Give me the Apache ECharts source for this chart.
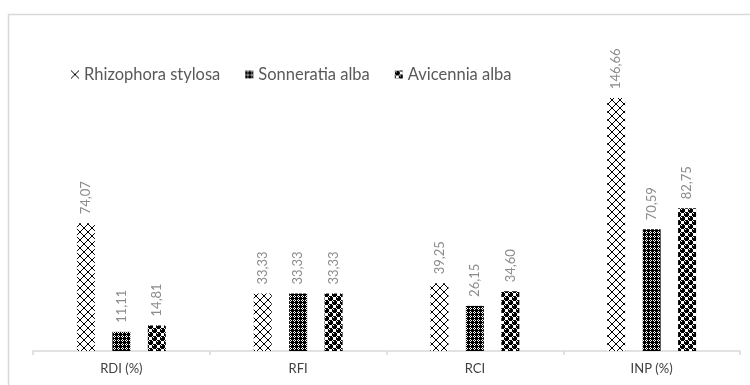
<!DOCTYPE html>
<html><head><meta charset="utf-8">
<script src="https://cdn.jsdelivr.net/npm/echarts@6/dist/echarts.min.js"></script>
<style>html,body{margin:0;padding:0;background:#fff}#c{width:750px;height:385px}</style>
</head><body><div id="c"></div>
<script>
var categories = ['RDI (%)', 'RFI', 'RCI', 'INP (%)'];
var seriesNames = ['Rhizophora stylosa', 'Sonneratia alba', 'Avicennia alba'];
var rhizophora = [74.07, 33.33, 39.25, 146.66];
var sonneratia = [11.11, 33.33, 26.15, 70.59];
var avicennia = [14.81, 33.33, 34.60, 82.75];

function tile(w, h, draw) {
  var c = document.createElement('canvas');
  c.width = w; c.height = h;
  var g = c.getContext('2d');
  g.fillStyle = '#fff'; g.fillRect(0, 0, w, h);
  g.fillStyle = '#000';
  draw(g);
  return { image: c, repeat: 'repeat' };
}
// diagonal lattice
var patA = tile(8, 8, function (g) {
  for (var i = 0; i < 8; i++) {
    g.fillRect(i, i, 1, 1);
    g.fillRect(7 - i, i, 1, 1);
  }
});
// dense small checker
var patB = tile(4, 4, function (g) {
  g.fillRect(0, 0, 1, 1); g.fillRect(2, 0, 1, 1);
  g.fillRect(1, 1, 1, 1); g.fillRect(3, 1, 1, 1);
  g.fillRect(0, 2, 4, 1);
  g.fillRect(1, 3, 1, 1); g.fillRect(3, 3, 1, 1);
  g.fillRect(0, 0, 1, 4);
});
// spheres on a checker
var patC = tile(8, 8, function (g) {
  function blob(x, y) {
    g.fillRect(x + 1, y, 3, 1);
    g.fillRect(x, y + 1, 5, 3);
    g.fillRect(x + 1, y + 4, 3, 1);
    g.fillStyle = '#fff'; g.fillRect(x + 1, y + 1, 1, 1); g.fillStyle = '#000';
  }
  blob(0, 0); blob(4, 4);
  blob(-4, 4); blob(4, -4); blob(8, 0); blob(0, 8);
});

var labelFmt = function (p) { return p.value.toFixed(2).replace('.', ','); };
function mk(name, data, pat) {
  return {
    name: name, type: 'bar', data: data, barWidth: 18, barGap: '97%',
    itemStyle: { color: pat },
    label: {
      show: true, position: 'top', rotate: 90, align: 'left', verticalAlign: 'middle',
      distance: 9, formatter: labelFmt, color: '#8c8c8c', fontSize: 13, fontFamily: 'Lato'
    }
  };
}

var chart = echarts.init(document.getElementById('c'));
chart.setOption({
  animation: false,
  graphic: [{ type: 'rect', shape: { x: 8.5, y: 14.5, width: 800, height: 400 },
    style: { fill: 'none', stroke: '#d9d9d9', lineWidth: 1.5 }, silent: true }],
  legend: {
    left: 66, top: 61, itemWidth: 8, itemHeight: 8, itemGap: 25,
    icon: 'rect',
    textStyle: { color: '#595959', fontSize: 16.5, fontFamily: 'Lato' },
    data: seriesNames
  },
  grid: { left: 33, right: 10, top: 75, bottom: 34 },
  xAxis: {
    type: 'category', data: categories,
    axisLine: { lineStyle: { color: '#d9d9d9', width: 1.5 } },
    axisTick: { show: true, length: 4, lineStyle: { color: '#d9d9d9', width: 1.5 } },
    axisLabel: { color: '#404040', fontSize: 13, fontFamily: 'Lato', margin: 11 }
  },
  yAxis: { type: 'value', min: 0, max: 160, show: false, splitLine: { show: false } },
  series: [
    mk(seriesNames[0], rhizophora, patA),
    mk(seriesNames[1], sonneratia, patB),
    mk(seriesNames[2], avicennia, patC)
  ]
});
</script></body></html>
